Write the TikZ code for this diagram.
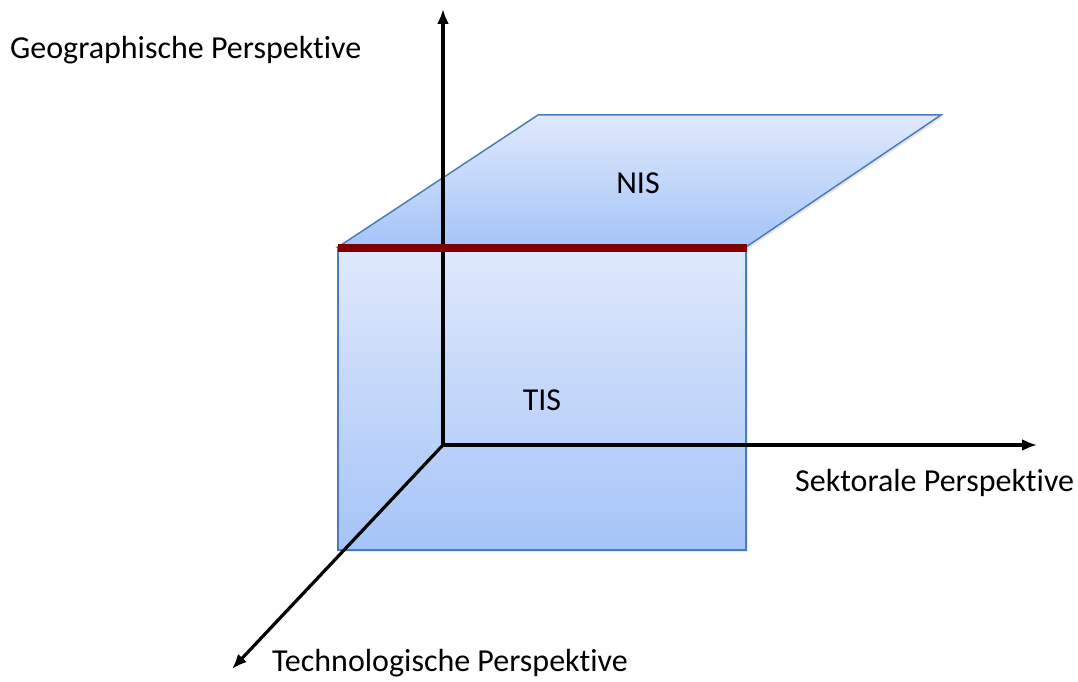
\documentclass[tikz,border=0pt]{standalone}
\usepackage{fontspec}
\setmainfont{Carlito}[Ligatures=NoCommon]
\usetikzlibrary{arrows.meta,shadows}
\definecolor{planeedge}{HTML}{4A7EBB}
\definecolor{planetop}{HTML}{E0E9FB}
\definecolor{planebot}{HTML}{A5C4F8}
\definecolor{joinred}{HTML}{800000}
\tikzset{
  plane/.style={draw=planeedge, line width=1.5pt, line join=miter,
    top color=planetop, bottom color=planebot,
    drop shadow={opacity=0.2, shadow xshift=2pt, shadow yshift=-2pt}},
  axis/.style={line width=3.2pt, -{Latex[length=15pt,width=12pt]}},
  label/.style={font=\fontsize{32}{36}\selectfont, inner sep=0pt},
}
\begin{document}
\begin{tikzpicture}[x=1pt,y=-1pt]
  \useasboundingbox (0,0) rectangle (1078,682);
  % planes
  \path[plane] (338,247) -- (746,247) -- (941,115) -- (538,115) -- cycle;
  \path[plane] (338,247) rectangle (746,550);
  % origin and axis ends
  \coordinate (o) at (443,445);
  \coordinate (up) at (443,9);
  \coordinate (right) at (1037,445);
  \coordinate (front) at (232,669);
  \draw[axis] (o) -- (up);
  \draw[axis] (o) -- (right);
  \draw[axis] (o) -- (front);
  % fold line between the two planes
  \coordinate (foldl) at (338,248);
  \coordinate (foldr) at (747,248);
  \draw[joinred, line width=7.5pt] (foldl) -- (foldr);
  % labels
  \node[label] (nis) at (638,183) {NIS};
  \node[label] (tis) at (542,400) {TIS};
  \node[label, anchor=west] (geo) at (10,50) {Geographische Perspektive};
  \node[label, anchor=west] (sek) at (795,483) {Sektorale Perspektive};
  \node[label, anchor=west] (tech) at (272,663) {Technologische Perspektive};
\end{tikzpicture}
\end{document}
